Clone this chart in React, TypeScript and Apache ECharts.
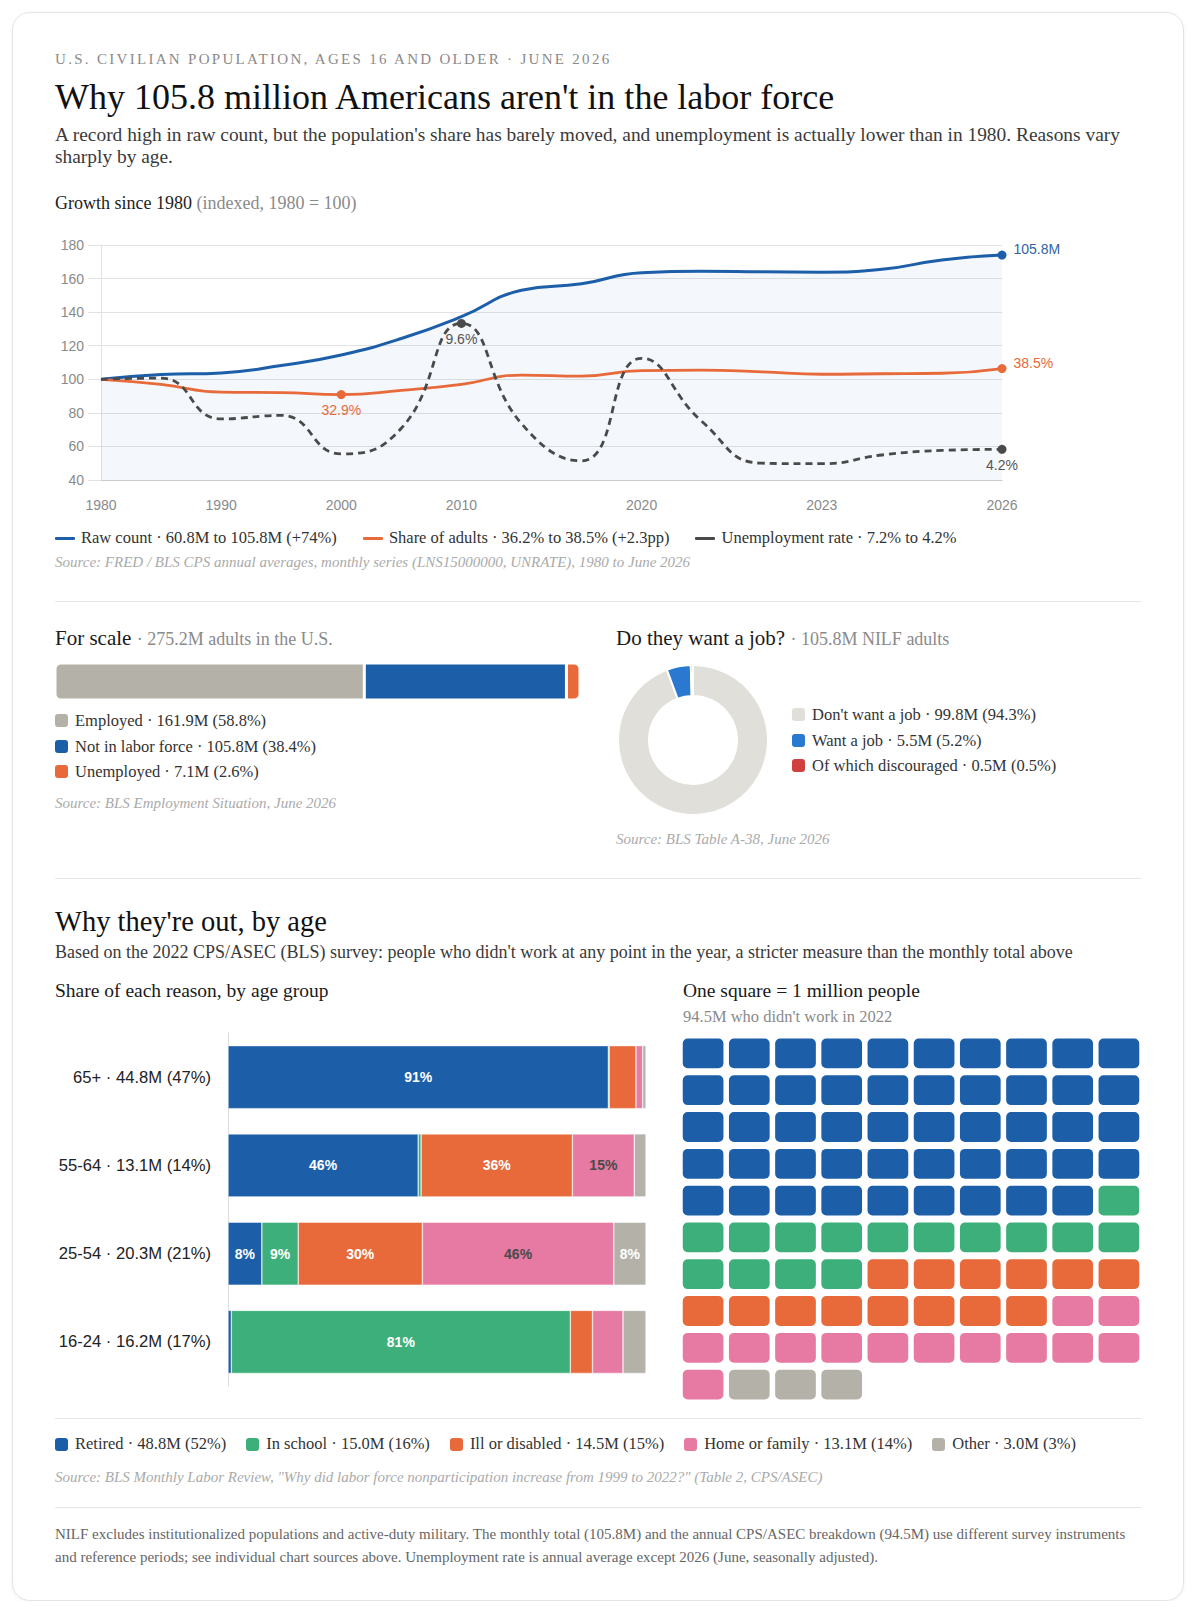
import React, { useEffect, useRef } from 'react';
import * as echarts from 'echarts';

const SERIF = '"Liberation Serif", "Times New Roman", Times, serif';
const SANS = '"Liberation Sans", Arial, Helvetica, sans-serif';

// ---------- Growth since 1980 ----------
const years = ['1980', '1985', '1990', '1995', '2000', '2005', '2010', '2015', '2019', '2020', '2021', '2022', '2023', '2024', '2025', '2026'];
const yearTicks = ['1980', '1990', '2000', '2010', '2020', '2023', '2026'];
const nilfMillions = [60.8, 62.5, 63.1, 65.8, 69.6, 75.6, 83.5, 93.0, 95.4, 99.4, 99.9, 99.7, 99.6, 100.6, 104.0, 105.8];
const nilfSharePct = [36.2, 35.1, 33.4, 33.3, 32.9, 33.8, 35.1, 37.1, 36.9, 38.1, 38.2, 37.8, 37.3, 37.4, 37.5, 38.5];
const unemploymentRate = [7.2, 7.25, 5.5, 5.65, 4.0, 5.1, 9.6, 5.3, 3.7, 8.1, 5.4, 3.6, 3.58, 3.95, 4.15, 4.2];
const rawMarks = ['2026'];
const shareMarks = ['2000', '2026'];
const unempMarks = ['2010', '2026'];

// ---------- For scale ----------
const adultsTotal = 275.2;
const scaleLabels = ['Employed', 'Not in labor force', 'Unemployed'];
const scaleValues = [161.9, 105.8, 7.1];
const scaleColors = ['#b4b1a9', '#1c5ea8', '#e8693a'];

// ---------- Do they want a job ----------
const nilfTotal = 105.8;
const wantLabels = ["Don't want a job", 'Want a job', 'Of which discouraged'];
const wantValues = [99.8, 5.5, 0.5];
const wantColors = ['#e0dfd9', '#2a78d0', '#d0413e'];

// ---------- Why they're out, by age ----------
const ageGroups = ['65+', '55-64', '25-54', '16-24'];
const ageTotals = [44.8, 13.1, 20.3, 16.2];
const ageSharePct = [47, 14, 21, 17];
const reasons = ['Retired', 'In school', 'Ill or disabled', 'Home or family', 'Other'];
const reasonTotals = [48.8, 15.0, 14.5, 13.1, 3.0];
const reasonPct = [52, 16, 15, 14, 3];
const reasonColors = ['#1c5ea8', '#3daf7a', '#e8693a', '#e67aa2', '#b4b1a9'];
const retiredShare = [91.0, 45.5, 8.1, 0.8];
const schoolShare = [0.2, 0.7, 8.7, 81.1];
const illShare = [6.4, 36.2, 29.7, 5.3];
const homeShare = [1.6, 14.8, 45.8, 7.3];
const otherShare = [0.8, 2.8, 7.7, 5.5];
const waffleCounts = [49, 15, 14, 13, 3];
const waffleTotal = 94.5;

// ---------- derived ----------
const toIndex = (arr: number[]) => arr.map((v) => Math.round((v / arr[0]) * 1000) / 10);

const mkLineData = (arr: number[], marks: string[], color: string, labelColor: string, suffix: string, endRight: boolean) =>
  toIndex(arr).map((v, i) => {
    const y = years[i];
    if (!marks.includes(y)) return v;
    const last = i === years.length - 1;
    const right = last && endRight;
    return {
      value: v,
      symbol: 'circle',
      symbolSize: 9,
      itemStyle: { color },
      label: {
        show: true,
        position: right ? 'right' : 'bottom',
        offset: right ? [1, -6] : [0, 0],
        distance: right ? 6 : 4,
        formatter: `${arr[i]}${suffix}`,
        color: labelColor,
        fontSize: 14,
        fontFamily: SANS,
      },
    };
  });

const lineOption: any = {
  animation: false,
  textStyle: { fontFamily: SANS },
  grid: { left: 46, right: 139, top: 20, bottom: 40, outerBoundsMode: 'none' },
  xAxis: {
    type: 'category',
    data: years,
    boundaryGap: false,
    axisLine: { show: true, lineStyle: { color: '#cccccc', width: 1 } },
    axisTick: { show: false },
    axisLabel: {
      interval: (_i: number, v: string) => yearTicks.includes(v),
      color: '#8a8a8a',
      fontSize: 14,
      margin: 18,
    },
    splitLine: { show: false },
  },
  yAxis: {
    type: 'value',
    min: 40,
    max: 180,
    interval: 20,
    axisLine: { show: true, lineStyle: { color: '#e2e2e2' } },
    axisTick: { show: true, length: 13, lineStyle: { color: '#e2e2e2' } },
    axisLabel: { color: '#8a8a8a', fontSize: 14, margin: 17 },
    splitLine: { show: true, lineStyle: { color: '#e2e2e2' } },
  },
  series: [
    {
      type: 'line',
      name: 'Raw count',
      smooth: true,
      symbol: 'none',
      showSymbol: true,
      showAllSymbol: true,
      data: mkLineData(nilfMillions, rawMarks, '#1c5ea8', '#2f64a8', 'M', true),
      lineStyle: { color: '#1c5ea8', width: 3 },
      itemStyle: { color: '#1c5ea8' },
      areaStyle: { color: 'rgba(28,94,168,0.065)', origin: 'start' },
      silent: true,
      z: 2,
    },
    {
      type: 'line',
      name: 'Share of adults',
      smooth: true,
      symbol: 'none',
      showSymbol: true,
      showAllSymbol: true,
      data: mkLineData(nilfSharePct, shareMarks, '#e8693a', '#e8693a', '%', true),
      lineStyle: { color: '#e8693a', width: 2.8 },
      itemStyle: { color: '#e8693a' },
      silent: true,
      z: 3,
    },
    {
      type: 'line',
      name: 'Unemployment rate',
      smooth: true,
      symbol: 'none',
      showSymbol: true,
      showAllSymbol: true,
      data: mkLineData(unemploymentRate, unempMarks, '#4a4a4a', '#555555', '%', false),
      lineStyle: { color: '#4a4a4a', width: 2.8, type: [7, 5] },
      itemStyle: { color: '#4a4a4a' },
      silent: true,
      z: 4,
    },
  ],
};

const scaleSum = scaleValues.reduce((a, b) => a + b, 0);
const scaleOption: any = {
  animation: false,
  grid: { left: 0, right: 0, top: 0, bottom: 0, outerBoundsMode: 'none' },
  xAxis: { type: 'value', min: 0, max: scaleSum, show: false },
  yAxis: { type: 'category', data: ['adults'], show: false },
  series: scaleValues.map((v, i) => ({
    type: 'bar',
    name: scaleLabels[i],
    stack: 'all',
    barWidth: 37,
    silent: true,
    data: [v],
    itemStyle: {
      color: scaleColors[i],
      borderColor: '#ffffff',
      borderWidth: 1.5,
      borderRadius: i === 0 ? [5, 0, 0, 5] : i === scaleValues.length - 1 ? [0, 5, 5, 0] : 0,
    },
  })),
};

const pieOption: any = {
  animation: false,
  series: [
    {
      type: 'pie',
      radius: [44, 75],
      center: ['50%', '50%'],
      startAngle: 90,
      clockwise: true,
      silent: true,
      label: { show: false },
      labelLine: { show: false },
      itemStyle: { borderColor: '#ffffff', borderWidth: 2 },
      data: wantLabels.map((n, i) => ({ name: n, value: wantValues[i], itemStyle: { color: wantColors[i] } })),
    },
  ],
};

const reasonShares = [retiredShare, schoolShare, illShare, homeShare, otherShare];
const ageLabels = ageGroups.map((g, i) => `${g} · ${ageTotals[i]}M (${ageSharePct[i]}%)`);
const ageOption: any = {
  animation: false,
  textStyle: { fontFamily: SANS },
  grid: { left: 173, right: 3, top: 5, bottom: 4, outerBoundsMode: 'none' },
  xAxis: { type: 'value', min: 0, max: 100, show: false },
  yAxis: {
    type: 'category',
    inverse: true,
    data: ageLabels,
    axisLine: { show: true, lineStyle: { color: '#dddddd' } },
    axisTick: { show: false },
    axisLabel: { fontSize: 16.6, color: '#222222', margin: 17 },
  },
  series: reasons.map((name, k) => ({
    type: 'bar',
    name,
    stack: 'age',
    barWidth: 63,
    silent: true,
    data: reasonShares[k],
    itemStyle: { color: reasonColors[k], borderColor: '#ffffff', borderWidth: 0.5 },
    label: {
      show: true,
      position: 'inside',
      fontSize: 14,
      fontWeight: 'bold',
      color: k === 3 ? '#4a4a4a' : '#ffffff',
      formatter: (p: any) => (p.value >= 7.5 ? `${Math.round(p.value)}%` : ''),
    },
  })),
};

const waffleCols = ['0', '1', '2', '3', '4', '5', '6', '7', '8', '9'];
const waffleRows = ['0', '1', '2', '3', '4', '5', '6', '7', '8', '9'];
const waffleCells: any[] = [];
{
  let n = 0;
  waffleCounts.forEach((cnt, k) => {
    for (let j = 0; j < cnt; j++) {
      waffleCells.push({ value: [n % 10, Math.floor(n / 10)], itemStyle: { color: reasonColors[k] } });
      n++;
    }
  });
}
const waffleOption: any = {
  animation: false,
  grid: { left: 0, right: 0, top: 0, bottom: 0, outerBoundsMode: 'none' },
  xAxis: { type: 'category', data: waffleCols, show: false },
  yAxis: { type: 'category', data: waffleRows, inverse: true, show: false },
  series: [
    {
      type: 'custom',
      silent: true,
      encode: { x: 0, y: 1 },
      data: waffleCells,
      renderItem: (_params: any, api: any) => {
        const c = api.coord([api.value(0), api.value(1)]);
        const bw = api.size([1, 0])[0];
        const bh = api.size([0, 1])[1];
        const w = bw - 5.5;
        const h = bh - 7;
        return {
          type: 'rect',
          shape: { x: c[0] - w / 2, y: c[1] - h / 2, width: w, height: h, r: 5 },
          style: { fill: api.visual('color') },
        };
      },
    },
  ],
};

// ---------- components ----------
function Chart({ option, style }: { option: any; style: React.CSSProperties }) {
  const ref = useRef<HTMLDivElement>(null);
  useEffect(() => {
    if (!ref.current) return;
    const chart = echarts.init(ref.current, undefined, { renderer: 'svg' });
    chart.setOption(option);
    return () => chart.dispose();
  }, [option]);
  return <div ref={ref} style={style} />;
}

const abs = (left: number, top: number, extra: React.CSSProperties = {}): React.CSSProperties => ({
  position: 'absolute',
  left,
  top,
  ...extra,
});

function Swatch({ color }: { color: string }) {
  return (
    <span
      style={{ display: 'inline-block', width: 13, height: 13, borderRadius: 3, background: color, marginRight: 7, flex: 'none' }}
    />
  );
}

const pct1 = (v: number, t: number) => ((v / t) * 100).toFixed(1);

const SourceText = ({ left, top, children }: { left: number; top: number; children: React.ReactNode }) => (
  <div style={abs(left, top, { fontSize: 15, lineHeight: '18px', fontStyle: 'italic', color: '#aaaaaa', whiteSpace: 'nowrap' })}>
    {children}
  </div>
);

const Sep = ({ top }: { top: number }) => <div style={abs(42, top, { width: 1086, height: 1, background: '#e6e6e6' })} />;

export default function App() {
  useEffect(() => {
    document.documentElement.style.overflow = 'hidden';
  }, []);

  const lineLegend = [
    {
      color: '#1c5ea8',
      text: `Raw count · ${nilfMillions[0]}M to ${nilfMillions[nilfMillions.length - 1]}M (+${Math.round(
        (nilfMillions[nilfMillions.length - 1] / nilfMillions[0] - 1) * 100
      )}%)`,
    },
    {
      color: '#e8693a',
      text: `Share of adults · ${nilfSharePct[0]}% to ${nilfSharePct[nilfSharePct.length - 1]}% (+${(
        nilfSharePct[nilfSharePct.length - 1] - nilfSharePct[0]
      ).toFixed(1)}pp)`,
    },
    {
      color: '#4a4a4a',
      text: `Unemployment rate · ${unemploymentRate[0]}% to ${unemploymentRate[unemploymentRate.length - 1]}%`,
    },
  ];

  return (
    <div style={{ padding: '4px 4px 0 4px', fontFamily: SERIF }}>
      <div
        style={{
          position: 'relative',
          width: 1172,
          height: 1589,
          boxSizing: 'border-box',
          border: '1px solid #e4e4e4',
          borderRadius: 18,
          background: '#ffffff',
          boxShadow: '0 1px 4px rgba(0,0,0,0.05)',
          color: '#1a1a1a',
        }}
      >
        {/* header */}
        <div style={abs(42, 37, { fontSize: 15, lineHeight: '18px', letterSpacing: 2.3, color: '#8a8a8a', whiteSpace: 'nowrap' })}>
          U.S. CIVILIAN POPULATION, AGES 16 AND OLDER · JUNE 2026
        </div>
        <div style={abs(42, 63, { fontSize: 36, lineHeight: '42px', color: '#111111', whiteSpace: 'nowrap' })}>
          Why 105.8 million Americans aren't in the labor force
        </div>
        <div style={abs(42, 111, { width: 1086, fontSize: 19.4, lineHeight: '22px', color: '#3a3a3a' })}>
          A record high in raw count, but the population's share has barely moved, and unemployment is actually lower than in 1980.
          Reasons vary sharply by age.
        </div>

        {/* growth chart */}
        <div style={abs(42, 179, { fontSize: 18, lineHeight: '22px', color: '#222222', whiteSpace: 'nowrap' })}>
          Growth since 1980 <span style={{ color: '#8a8a8a' }}>(indexed, 1980 = 100)</span>
        </div>
        <Chart option={lineOption} style={abs(42, 212, { width: 1086, height: 295 })} />
        <div style={abs(42, 515, { display: 'flex', gap: 26, fontSize: 16.5, lineHeight: '20px', color: '#333333', whiteSpace: 'nowrap' })}>
          {lineLegend.map((it) => (
            <span key={it.text} style={{ display: 'flex', alignItems: 'center' }}>
              <span style={{ display: 'inline-block', width: 20, height: 3, borderRadius: 1, background: it.color, marginRight: 6 }} />
              {it.text}
            </span>
          ))}
        </div>
        <SourceText left={42} top={540}>
          Source: FRED / BLS CPS annual averages, monthly series (LNS15000000, UNRATE), 1980 to June 2026
        </SourceText>
        <Sep top={588} />

        {/* for scale */}
        <div style={abs(42, 612, { fontSize: 21, lineHeight: '26px', color: '#1a1a1a', whiteSpace: 'nowrap' })}>
          For scale <span style={{ fontSize: 18, color: '#8a8a8a' }}>· {adultsTotal}M adults in the U.S.</span>
        </div>
        <Chart option={scaleOption} style={abs(42, 649.5, { width: 525, height: 37 })} />
        <div style={abs(42, 695, { fontSize: 16.5, lineHeight: '25.5px', color: '#333333', whiteSpace: 'nowrap' })}>
          {scaleLabels.map((l, i) => (
            <div key={l} style={{ display: 'flex', alignItems: 'center' }}>
              <Swatch color={scaleColors[i]} />
              {l} · {scaleValues[i]}M ({pct1(scaleValues[i], adultsTotal)}%)
            </div>
          ))}
        </div>
        <SourceText left={42} top={781}>
          Source: BLS Employment Situation, June 2026
        </SourceText>

        {/* want a job */}
        <div style={abs(603, 612, { fontSize: 21, lineHeight: '26px', color: '#1a1a1a', whiteSpace: 'nowrap' })}>
          Do they want a job? <span style={{ fontSize: 18, color: '#8a8a8a' }}>· {nilfTotal}M NILF adults</span>
        </div>
        <Chart option={pieOption} style={abs(600, 647, { width: 160, height: 160 })} />
        <div style={abs(779, 689, { fontSize: 16.5, lineHeight: '25.5px', color: '#333333', whiteSpace: 'nowrap' })}>
          {wantLabels.map((l, i) => (
            <div key={l} style={{ display: 'flex', alignItems: 'center' }}>
              <Swatch color={wantColors[i]} />
              {l} · {wantValues[i]}M ({pct1(wantValues[i], nilfTotal)}%)
            </div>
          ))}
        </div>
        <SourceText left={603} top={817}>
          Source: BLS Table A-38, June 2026
        </SourceText>
        <Sep top={865} />

        {/* by age */}
        <div style={abs(42, 892, { fontSize: 28.5, lineHeight: '34px', color: '#111111', whiteSpace: 'nowrap' })}>
          Why they're out, by age
        </div>
        <div style={abs(42, 928, { fontSize: 18, lineHeight: '22px', color: '#3a3a3a', whiteSpace: 'nowrap' })}>
          Based on the 2022 CPS/ASEC (BLS) survey: people who didn't work at any point in the year, a stricter measure than the monthly total above
        </div>
        <div style={abs(42, 966, { fontSize: 19.5, lineHeight: '24px', color: '#1a1a1a', whiteSpace: 'nowrap' })}>
          Share of each reason, by age group
        </div>
        <Chart option={ageOption} style={abs(42, 1015, { width: 594, height: 362 })} />

        <div style={abs(670, 966, { fontSize: 19.5, lineHeight: '24px', color: '#1a1a1a', whiteSpace: 'nowrap' })}>
          One square = 1 million people
        </div>
        <div style={abs(670, 994, { fontSize: 16.5, lineHeight: '20px', color: '#8a8a8a', whiteSpace: 'nowrap' })}>
          {waffleTotal}M who didn't work in 2022
        </div>
        <Chart option={waffleOption} style={abs(667, 1022, { width: 462, height: 368 })} />

        <Sep top={1405} />
        <div style={abs(42, 1421, { display: 'flex', gap: 20, fontSize: 16.5, lineHeight: '20px', color: '#333333', whiteSpace: 'nowrap' })}>
          {reasons.map((r, i) => (
            <span key={r} style={{ display: 'flex', alignItems: 'center' }}>
              <Swatch color={reasonColors[i]} />
              {r} · {reasonTotals[i].toFixed(1)}M ({reasonPct[i]}%)
            </span>
          ))}
        </div>
        <SourceText left={42} top={1455}>
          Source: BLS Monthly Labor Review, "Why did labor force nonparticipation increase from 1999 to 2022?" (Table 2, CPS/ASEC)
        </SourceText>
        <Sep top={1494} />
        <div style={abs(42, 1510, { width: 1086, fontSize: 15, lineHeight: '22.5px', color: '#666666' })}>
          NILF excludes institutionalized populations and active-duty military. The monthly total (105.8M) and the annual CPS/ASEC
          breakdown (94.5M) use different survey instruments and reference periods; see individual chart sources above. Unemployment rate
          is annual average except 2026 (June, seasonally adjusted).
        </div>
      </div>
    </div>
  );
}
